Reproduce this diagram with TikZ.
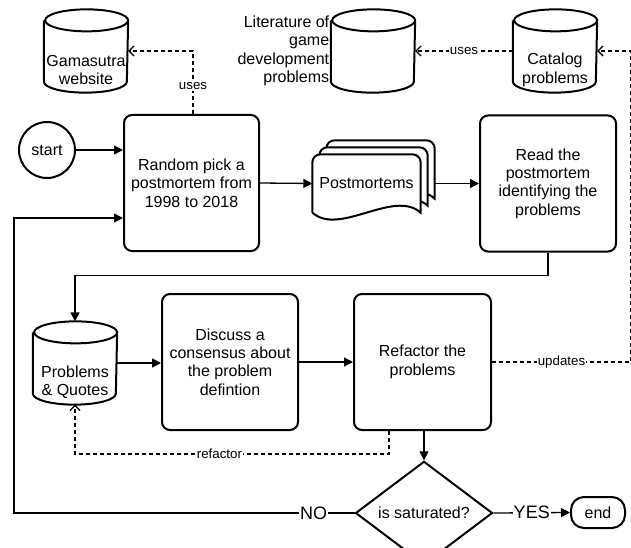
\documentclass[tikz,border=0pt]{standalone}
\usepackage{fontspec}
\setmainfont{Liberation Sans}
\usetikzlibrary{shapes.geometric,arrows.meta}

\begin{document}
\begin{tikzpicture}[x=1pt,y=1pt,line width=1.3pt,
  font=\fontsize{16}{18.4}\selectfont,
  box/.style={draw,line width=2pt,rounded corners=8pt,align=center,minimum width=136pt,minimum height=136pt,inner sep=2pt},
  db/.style={minimum width=83pt,minimum height=82pt,inner sep=0pt},
  dbtext/.style={align=center,yshift=-19pt,inner sep=0pt},
  lbl/.style={fill=white,inner sep=1pt,font=\fontsize{13.3}{15}\selectfont},
  biglbl/.style={fill=white,inner sep=1pt,font=\fontsize{18}{20}\selectfont},
  flow/.style={-{Triangle[length=9pt,width=9pt]}},
  uses/.style={dash pattern=on 4pt off 3pt,-{Straight Barb[length=5pt,width=10pt]}}]
\useasboundingbox (0,0) rectangle (631,-548);
% data stores
\node[db,label={[dbtext]center:{Gamasutra\\website}}] (gama) at (86,-51) {};
\node[db,label={[align=right,inner sep=1pt]left:{Literature of\\game\\development\\problems}}] (lit) at (373,-51) {};
\node[db,label={[dbtext]center:{Catalog\\problems}}] (cat) at (555,-51) {};
\node[db,label={[dbtext]center:{Problems\\\& Quotes}}] (probs) at (75,-363) {};
\foreach \c in {gama,lit,cat,probs}{
  \draw[line width=2pt] ([yshift=-11pt]\c.north west) -- ([yshift=11pt]\c.south west)
    arc[start angle=180,end angle=360,x radius=41.5pt,y radius=11pt]
    -- ([yshift=-11pt]\c.north east)
    arc[start angle=0,end angle=180,x radius=41.5pt,y radius=11pt]
    arc[start angle=180,end angle=360,x radius=41.5pt,y radius=11pt];
}
% steps
\node[circle,draw,line width=2pt,minimum size=56pt,inner sep=0pt] (start) at (47,-150) {start};
\node[box,minimum width=135pt] (pick) at (191.5,-183) {Random pick a\\postmortem from\\1998 to 2018};
\node[minimum width=107pt,minimum height=57pt,inner sep=0pt] (post) at (366.5,-183.5) {};
\foreach \d in {14,7,0}
  \draw[line width=2pt,fill=white,rounded corners=8pt]
    ([shift={(\d pt,\d pt)}]post.south west) -- ([shift={(\d pt,\d pt)}]post.north west)
    -- ([shift={(\d pt,\d pt)}]post.north east) [sharp corners] -- ([shift={(\d pt,\d pt)}]post.south east)
    .. controls ([shift={(\d pt-27pt,\d pt+24pt)}]post.south east) and ([shift={(\d pt+27pt,\d pt-24pt)}]post.south west) .. ([shift={(\d pt,\d pt)}]post.south west);
\node at (post) {Postmortems};
\node[box] (read) at (548,-183.5) {Read the\\postmortem\\identifying the\\problems};
\node[box] (disc) at (230,-362) {Discuss a\\consensus about\\the problem\\defintion};
\node[box,minimum width=137pt] (refac) at (422.5,-362) {Refactor the\\problems};
\node[diamond,draw,line width=2pt,minimum width=137pt,minimum height=80pt,inner sep=0pt] (sat) at (424,-513) {is saturated?};
\node[draw,line width=2pt,rounded corners=13pt,minimum width=54pt,minimum height=31pt,inner sep=0pt] (finish) at (598,-512.5) {end};
\coordinate (loopx) at (14,-513);
% connectors
\draw[flow] (start.east) -- (start.east -| pick.west);
\draw[flow] (pick.east) -- (post.west);
\draw[flow] ([xshift=14pt]post.east) -- (post.east -| read.west);
\draw[flow] (read.south) -- ++(0,-23) -| (probs.north);
\draw[flow] (probs.east) -- (probs.east -| disc.west);
\draw[flow] (disc.east) -- (refac.west);
\draw[flow] (sat.north |- refac.south) -- (sat.north);
\draw[flow] (sat.west) -- (loopx) node[biglbl,pos=0.12] {NO} |- ([yshift=-35pt]pick.west);
\draw[flow] (sat.east) -- (finish.west) node[biglbl,midway] {YES};
\draw[uses] ([xshift=1.5pt]pick.north) |- (gama.east) node[lbl,pos=0.22] {uses};
\draw[uses] (cat.west) -- (lit.east) node[lbl,midway] {uses};
\draw[uses] (refac.east) -- ++(139,0) node[lbl,midway] {updates} |- (cat.east);
\draw[uses] ([xshift=-33.5pt]refac.south) -- ++(0,-23) -| (probs.south) node[lbl,pos=0.27] {refactor};
\end{tikzpicture}
\end{document}
